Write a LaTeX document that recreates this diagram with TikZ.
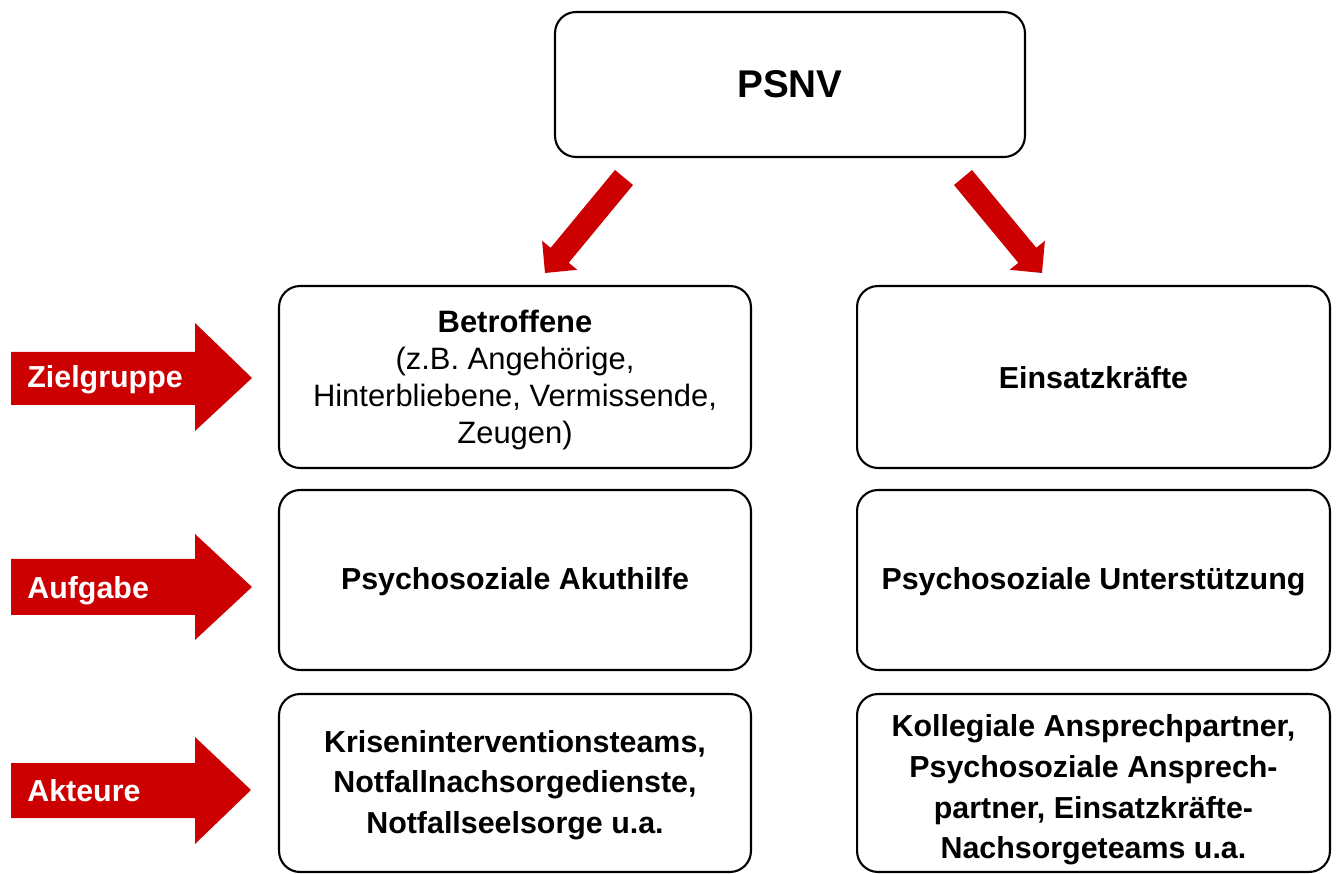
\documentclass[tikz,border=0pt]{standalone}
\usepackage{fontspec}
\setmainfont{Liberation Sans}
\begin{document}
\begin{tikzpicture}[x=0.02cm,y=-0.02cm,
  box/.style={draw=black,line width=1.2pt,rounded corners=0.42cm,fill=white,align=center,inner sep=0pt},
  rowone/.style={box,minimum height=3.64cm},
  rowtwo/.style={box,minimum height=3.6cm},
  rowthree/.style={box,minimum height=3.56cm},
  leftcol/.style={minimum width=9.44cm},
  rightcol/.style={minimum width=9.46cm},
  txt/.style={align=center,inner sep=0pt},
  bodytxt/.style={txt,font=\fontsize{17.6}{21.2}\selectfont},
  boldtxt/.style={txt,font=\fontsize{17.3}{23.2}\selectfont\bfseries},
  lbl/.style={font=\fontsize{17.3}{20}\selectfont\bfseries,text=white,inner sep=0pt,anchor=base west},
  redfill/.style={fill=psnvred,draw=none}
]
\definecolor{psnvred}{RGB}{204,0,0}
\useasboundingbox (0,0) rectangle (1336,874);

% top box
\node[box,minimum width=9.4cm,minimum height=2.9cm,font=\fontsize{22}{26}\selectfont\bfseries] (psnv) at (790,84.5) {PSNV};

% row 1
\node[rowone,leftcol] (betr) at (515,377) {};
\node[bodytxt] (betrtxt) at (515,380) {\textbf{Betroffene}\\(z.B. Angehörige,\\Hinterbliebene, Vermissende,\\Zeugen)};
\node[rowone,rightcol] (eins) at (1093.5,377) {};
\node[boldtxt] (einstxt) at (1093.5,378) {Einsatzkräfte};

% row 2
\node[rowtwo,leftcol] (akut) at (515,580) {};
\node[boldtxt] (akuttxt) at (515,582) {Psychosoziale Akuthilfe};
\node[rowtwo,rightcol] (unter) at (1093.5,580) {};
\node[boldtxt] (untertxt) at (1093.5,582) {Psychosoziale Unterstützung};

% row 3
\node[rowthree,leftcol] (krise) at (515,783) {};
\node[boldtxt] (krisetxt) at (515,785) {Kriseninterventionsteams,\\Notfallnachsorgedienste,\\Notfallseelsorge u.a.};
\node[rowthree,rightcol] (koll) at (1093.5,783) {};
\node[boldtxt] (kolltxt) at (1093.5,790) {Kollegiale Ansprechpartner,\\Psychosoziale Ansprech-\\partner, Einsatzkräfte-\\Nachsorgeteams u.a.};

% diagonal arrows
\fill[psnvred] (615,170) -- (550.7,247.8) -- (542.1,240.8) -- (545,273) -- (577.3,269.8) -- (568.7,262.8) -- (633,185) -- cycle;
\fill[psnvred] (972,170) -- (1036.3,247.8) -- (1044.9,240.8) -- (1042,273) -- (1009.7,269.8) -- (1018.3,262.8) -- (954,185) -- cycle;

% left label arrows
\fill[psnvred] (11,352) -- (195,352) -- (195,323) -- (252,378) -- (195,431) -- (195,405) -- (11,405) -- cycle;
\fill[psnvred] (11,559) -- (195,559) -- (195,534) -- (252,587) -- (195,640) -- (195,615) -- (11,615) -- cycle;
\fill[psnvred] (11,763) -- (195,763) -- (195,737) -- (251,790) -- (195,844) -- (195,818) -- (11,818) -- cycle;

\node[lbl] (lz) at (27,388) {Zielgruppe};
\node[lbl] (la) at (27,599) {Aufgabe};
\node[lbl] (lk) at (27,801) {Akteure};
\end{tikzpicture}
\end{document}
